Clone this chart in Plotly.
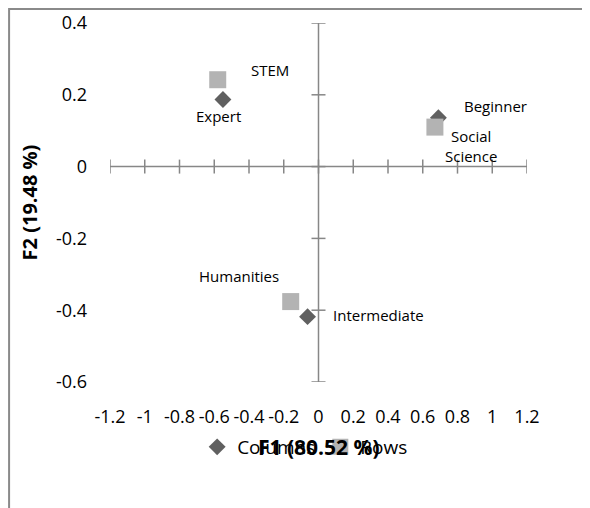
import plotly.graph_objects as go

# ---- data ----
row_names = ["STEM", "Social<br>Science", "Humanities"]
row_f1 = [-0.58, 0.67, -0.16]
row_f2 = [0.242, 0.11, -0.376]

col_names = ["Expert", "Beginner", "Intermediate"]
col_f1 = [-0.55, 0.69, -0.063]
col_f2 = [0.187, 0.136, -0.418]

x_ticks = [-1.2, -1.0, -0.8, -0.6, -0.4, -0.2, 0.0, 0.2, 0.4, 0.6, 0.8, 1.0, 1.2]
x_tick_labels = ["-1.2", "-1", "-0.8", "-0.6", "-0.4", "-0.2", "0", "0.2", "0.4", "0.6", "0.8", "1", "1.2"]
y_ticks = [-0.6, -0.4, -0.2, 0.0, 0.2, 0.4]
y_tick_labels = ["-0.6", "-0.4", "-0.2", "0", "0.2", "0.4"]

x_title = "F1 (80.52 %)"
y_title = "F2 (19.48 %)"

# label offsets (pixels)
row_shift = [(52, 10), (36, -19), (-52, 26)]
col_shift = [(-4, -17), (57, 12), (71, 2)]

FONT = "Open Sans"
AXIS_COL = "#878787"
ROW_COL = "#b3b3b3"
COL_COL = "#606060"

fig = go.Figure()
fig.add_trace(go.Scatter(x=col_f1, y=col_f2, mode="markers", name="Columns",
                         marker=dict(symbol="diamond", size=13, color=COL_COL),
                         cliponaxis=False))
fig.add_trace(go.Scatter(x=row_f1, y=row_f2, mode="markers", name="Rows",
                         marker=dict(symbol="square", size=17, color=ROW_COL),
                         cliponaxis=False))

shapes = []
# axes crossing at zero
shapes.append(dict(type="line", xref="x", yref="y", x0=x_ticks[0], x1=x_ticks[-1], y0=0, y1=0,
                   line=dict(color=AXIS_COL, width=1.5), layer="below"))
shapes.append(dict(type="line", xref="x", yref="y", x0=0, x1=0, y0=y_ticks[0], y1=y_ticks[-1],
                   line=dict(color=AXIS_COL, width=1.5), layer="below"))
for t in x_ticks:
    shapes.append(dict(type="line", xref="x", yref="y", ysizemode="pixel", yanchor=0,
                       x0=t, x1=t, y0=-7, y1=7, line=dict(color=AXIS_COL, width=1.5), layer="below"))
for t in y_ticks:
    shapes.append(dict(type="line", xref="x", yref="y", xsizemode="pixel", xanchor=0,
                       y0=t, y1=t, x0=-7, x1=7, line=dict(color=AXIS_COL, width=1.5), layer="below"))
# outer chart border (cropped)
shapes.append(dict(type="rect", xref="paper", yref="paper", x0=-0.242, x1=1.6, y0=-0.8, y1=1.039,
                   line=dict(color="#8a8a8a", width=2), fillcolor="rgba(0,0,0,0)"))

annotations = []
for n, x, y, (dx, dy) in zip(row_names, row_f1, row_f2, row_shift):
    annotations.append(dict(x=x, y=y, xref="x", yref="y", text=n, showarrow=False,
                            xshift=dx, yshift=dy, font=dict(family=FONT, size=15, color="#000")))
for n, x, y, (dx, dy) in zip(col_names, col_f1, col_f2, col_shift):
    annotations.append(dict(x=x, y=y, xref="x", yref="y", text=n, showarrow=False,
                            xshift=dx, yshift=dy, font=dict(family=FONT, size=15, color="#000")))
annotations.append(dict(x=0.5, y=-0.181, xref="paper", yref="paper", text="<b>" + x_title + "</b>",
                        xanchor="center", yanchor="middle",
                        showarrow=False, font=dict(family=FONT, size=21, color="#000")))
annotations.append(dict(x=-0.192, y=0.5, xref="paper", yref="paper", text="<b>" + y_title + "</b>",
                        xanchor="center", yanchor="middle",
                        textangle=-90, showarrow=False, font=dict(family=FONT, size=20, color="#000")))

fig.update_layout(
    width=582, height=500,
    margin=dict(l=102, r=63, t=15, b=126),
    paper_bgcolor="white", plot_bgcolor="white",
    font=dict(family=FONT, size=18, color="#000"),
    xaxis=dict(range=[-1.2, 1.2], tickvals=x_ticks, ticktext=x_tick_labels, showgrid=False,
               zeroline=False, showline=False, ticks="", ticklabelstandoff=22, automargin=False,
               tickfont=dict(family=FONT, size=18)),
    yaxis=dict(range=[-0.6, 0.4], tickvals=y_ticks, ticktext=y_tick_labels, showgrid=False,
               zeroline=False, showline=False, ticks="", ticklabelstandoff=22, automargin=False,
               tickfont=dict(family=FONT, size=18)),
    showlegend=True,
    legend=dict(orientation="h", x=0.468, xanchor="center", y=-0.181, yanchor="middle",
                font=dict(family=FONT, size=19), bgcolor="rgba(0,0,0,0)", itemclick=False),
    shapes=shapes, annotations=annotations,
)

fig.write_html("out.html")
